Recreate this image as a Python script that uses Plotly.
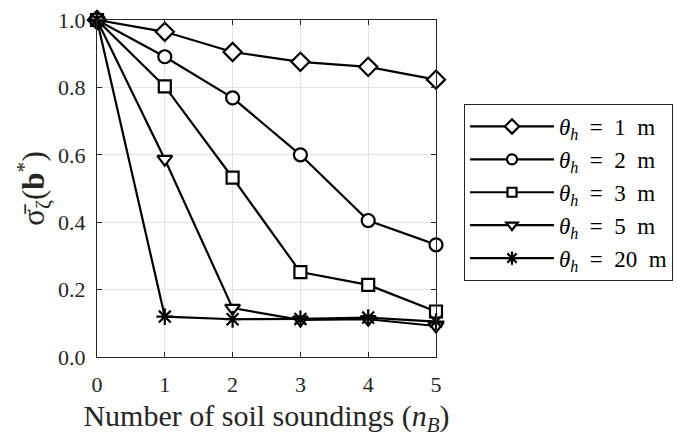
import plotly.graph_objects as go

# Normalised std of the boundary estimate vs. number of soundings
n_b = [0, 1, 2, 3, 4, 5]
theta_labels = ["1", "2", "3", "5", "20"]
sigma_1m = [1.0, 0.965, 0.905, 0.876, 0.861, 0.823]
sigma_2m = [1.0, 0.891, 0.769, 0.600, 0.405, 0.333]
sigma_3m = [1.0, 0.803, 0.532, 0.252, 0.214, 0.135]
sigma_5m = [1.0, 0.587, 0.145, 0.110, 0.112, 0.092]
sigma_20m = [1.0, 0.120, 0.112, 0.113, 0.117, 0.105]

series = [sigma_1m, sigma_2m, sigma_3m, sigma_5m, sigma_20m]
symbols = ["diamond", "circle", "square", "triangle-down", "asterisk-open"]
fills = ["white", "white", "white", "white", "black"]
sizes = [14, 13, 12, 13, 14]
legend_sizes = [11, 10, 9, 10, 11]

FONT = "Liberation Serif"
INK = "#262626"
EN = "\u2002"

fig = go.Figure()
for i, (lab, ys, sym, fc, sz, lsz) in enumerate(
        zip(theta_labels, series, symbols, fills, sizes, legend_sizes)):
    fig.add_trace(go.Scatter(
        x=n_b, y=ys, mode="lines+markers",
        showlegend=False, legendgroup=f"g{i}",
        cliponaxis=False,
        line=dict(color="black", width=2.2),
        marker=dict(symbol=sym, size=sz, color=fc,
                    line=dict(color="black", width=2.2)),
    ))
    # legend entry with a smaller key marker
    fig.add_trace(go.Scatter(
        x=[None], y=[None], mode="lines+markers",
        name=f"<i>θ</i><sub><i>h</i></sub>{EN}={EN}{lab}{EN}m",
        legendgroup=f"g{i}",
        line=dict(color="black", width=2.2),
        marker=dict(symbol=sym, size=lsz, color=fc,
                    line=dict(color="black", width=2.2)),
    ))

axis_common = dict(
    showgrid=True, gridcolor="#e3e3e3", gridwidth=1,
    showline=True, linecolor=INK, linewidth=1, mirror="ticks",
    ticks="inside", ticklen=5, tickcolor=INK,
    zeroline=False,
    tickfont=dict(family=FONT, size=22, color=INK),
)

fig.update_xaxes(range=[0, 5], dtick=1, ticklabelstandoff=8, **axis_common,
                 title=dict(text="Number of soil soundings (<i>n</i><sub><i>B</i></sub>)",
                            font=dict(family=FONT, size=30, color=INK),
                            standoff=9))
fig.update_yaxes(range=[0, 1], dtick=0.2, tickformat=".1f", ticklabelstandoff=6,
                 **axis_common,
                 title=dict(text="σ̄<sub>ζ</sub>(<b>b</b><sup>*</sup>)",
                            font=dict(family=FONT, size=31, color=INK),
                            standoff=4))

fig.update_layout(
    width=677, height=437,
    margin=dict(l=97, r=241, t=20, b=80, autoexpand=False),
    plot_bgcolor="white", paper_bgcolor="white",
    legend=dict(
        xref="container", yref="container",
        x=464 / 677, y=1 - 104 / 437, xanchor="left", yanchor="top",
        bordercolor=INK, borderwidth=1, bgcolor="white",
        font=dict(family=FONT, size=23, color="black"),
        itemwidth=84, tracegroupgap=0,
    ),
    showlegend=True,
)

fig.write_html("out.html")
